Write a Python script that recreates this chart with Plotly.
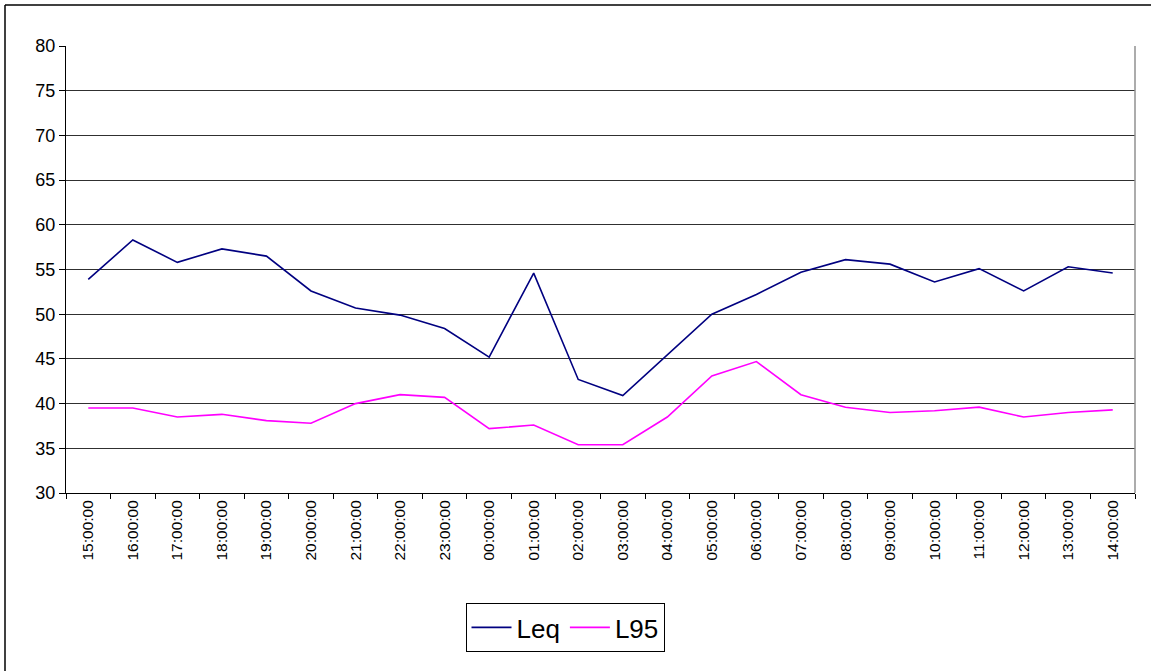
import plotly.graph_objects as go

hours = ["15:00:00", "16:00:00", "17:00:00", "18:00:00", "19:00:00", "20:00:00",
         "21:00:00", "22:00:00", "23:00:00", "00:00:00", "01:00:00", "02:00:00",
         "03:00:00", "04:00:00", "05:00:00", "06:00:00", "07:00:00", "08:00:00",
         "09:00:00", "10:00:00", "11:00:00", "12:00:00", "13:00:00", "14:00:00"]
leq = [53.9, 58.3, 55.8, 57.3, 56.5, 52.6, 50.7, 49.9, 48.4, 45.2, 54.6, 42.7,
       40.9, 45.4, 50.0, 52.2, 54.7, 56.1, 55.6, 53.6, 55.1, 52.6, 55.3, 54.6]
l95 = [39.5, 39.5, 38.5, 38.8, 38.1, 37.8, 40.0, 41.0, 40.7, 37.2, 37.6, 35.4,
       35.4, 38.5, 43.1, 44.7, 41.0, 39.6, 39.0, 39.2, 39.6, 38.5, 39.0, 39.3]
y_ticks = [30, 35, 40, 45, 50, 55, 60, 65, 70, 75, 80]

FONT = "Liberation Sans, Arial, sans-serif"

W, H = 1151, 671
L, R, T, B = 66, 16, 46, 178
pw, ph = W - L - R, H - T - B

def px_x(x):
    return (x - L) / pw

def px_y(y):
    return (H - B - y) / ph

fig = go.Figure()
fig.add_trace(go.Scatter(x=hours, y=leq, name="Leq", mode="lines",
                         line=dict(color="#000080", width=1.6)))
fig.add_trace(go.Scatter(x=hours, y=l95, name="L95", mode="lines",
                         line=dict(color="#FF00FF", width=1.6)))

fig.update_layout(
    width=W, height=H,
    margin=dict(l=L, r=R, t=T, b=B, pad=0),
    paper_bgcolor="white", plot_bgcolor="white",
    font=dict(family=FONT, color="black"),
    showlegend=True,
    legend=dict(orientation="h", x=px_x(565), xanchor="center",
                y=px_y(603), yanchor="top",
                font=dict(size=26, family=FONT, color="black"),
                bordercolor="black", borderwidth=1, bgcolor="white",
                itemwidth=40, tracegroupgap=0),
    xaxis=dict(type="category", tickangle=-90, tickson="boundaries",
               ticks="outside", ticklen=5, tickcolor="black", tickwidth=1,
               showline=True, linecolor="black", linewidth=1,
               showgrid=False, tickfont=dict(size=15.5, family=FONT),
               range=[-0.5, len(hours) - 0.5], fixedrange=True),
    yaxis=dict(range=[30, 80], tickvals=y_ticks, ticks="outside", ticklen=6,
               tickcolor="black", tickwidth=1,
               showline=True, linecolor="black", linewidth=1,
               showgrid=True, gridcolor="#303030", gridwidth=1,
               zeroline=False, tickfont=dict(size=18, family=FONT)),
    shapes=[
        dict(type="line", xref="paper", yref="paper", x0=1, x1=1, y0=0, y1=1,
             line=dict(color="#909090", width=1.5)),
        dict(type="line", xref="paper", yref="paper",
             x0=px_x(5), x1=px_x(W + 10), y0=px_y(5), y1=px_y(5),
             line=dict(color="black", width=1.5)),
        dict(type="line", xref="paper", yref="paper",
             x0=px_x(5), x1=px_x(5), y0=px_y(5), y1=px_y(H + 10),
             line=dict(color="black", width=1.5)),
    ],
)

fig.write_html("out.html",
               config={"displayModeBar": False},
               post_script="document.body.style.margin='0';document.body.style.overflow='hidden';")
